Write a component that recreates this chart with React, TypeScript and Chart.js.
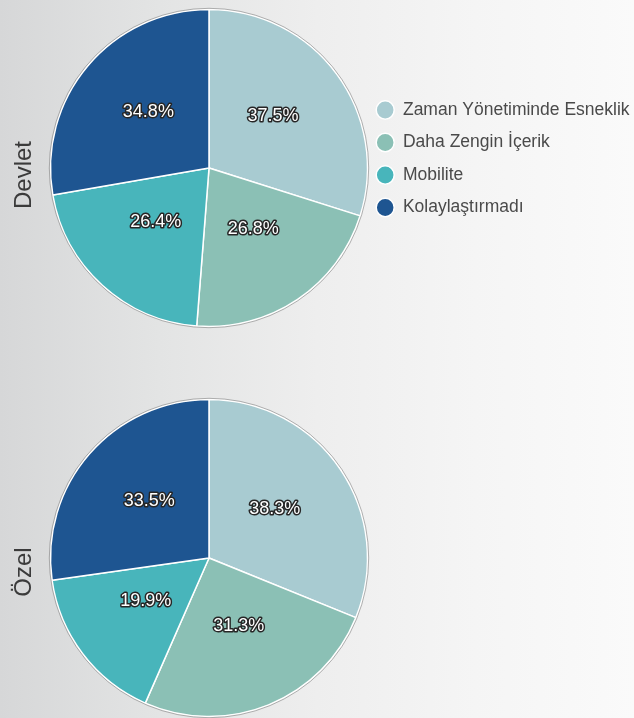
import React, { useEffect, useRef } from "react";
import { Chart, registerables } from "chart.js";

Chart.register(...registerables);

const categories = [
  "Zaman Yönetiminde Esneklik",
  "Daha Zengin İçerik",
  "Mobilite",
  "Kolaylaştırmadı",
];
const devletValues = [37.5, 26.8, 26.4, 34.8];
const ozelValues = [38.3, 31.3, 19.9, 33.5];
const groupLabels = ["Devlet", "Özel"];
const sliceColors = ["#a8cbd1", "#8bc0b5", "#48b5bb", "#1e5591"];

const FONT = "'Liberation Sans', Arial, Helvetica, sans-serif";

const pieDecor = {
  id: "pieDecor",
  afterDatasetsDraw(chart: any) {
    const { ctx } = chart;
    const meta = chart.getDatasetMeta(0);
    const data = chart.data.datasets[0].data as number[];
    ctx.save();
    const first = meta.data[0] as any;
    if (first) {
      ctx.beginPath();
      ctx.arc(first.x, first.y, first.outerRadius + 1.2, 0, Math.PI * 2);
      ctx.strokeStyle = "rgba(120,120,120,0.55)";
      ctx.lineWidth = 1;
      ctx.stroke();
    }
    ctx.font = `18px ${FONT}`;
    ctx.textAlign = "center";
    ctx.textBaseline = "alphabetic";
    ctx.lineJoin = "round";
    meta.data.forEach((el: any, i: number) => {
      const mid = (el.startAngle + el.endAngle) / 2;
      const r = el.outerRadius * 0.5;
      const x = el.x + Math.cos(mid) * r;
      const y = el.y + Math.sin(mid) * r;
      const text = `${data[i].toFixed(1)}%`;
      ctx.lineWidth = 3;
      ctx.strokeStyle = "#262626";
      ctx.strokeText(text, x, y);
      ctx.fillStyle = "#ffffff";
      ctx.fillText(text, x, y);
    });
    ctx.restore();
  },
};

function makeConfig(label: string, values: number[], withLegend: boolean, spacerBottom: number): any {
  return {
    type: "pie",
    data: {
      labels: categories,
      datasets: [
        {
          data: values,
          backgroundColor: sliceColors,
          borderColor: "#ffffff",
          borderWidth: 1.5,
          radius: 158.5,
          hoverOffset: 0,
        },
      ],
    },
    options: {
      responsive: false,
      animation: false,
      events: [],
      layout: { padding: withLegend ? 0 : { right: 272.8 } },
      plugins: {
        title: {
          display: true,
          text: label,
          position: "left",
          fullSize: true,
          color: "#3b3b3b",
          font: { family: FONT, size: 24, weight: "normal", lineHeight: 1.2 },
          padding: { top: 10, bottom: 18 },
        },
        subtitle: {
          display: true,
          text: "",
          position: "bottom",
          fullSize: true,
          font: { size: 10, lineHeight: 1 },
          padding: { top: spacerBottom - 10, bottom: 0 },
        },
        legend: withLegend
          ? {
              display: true,
              position: "right",
              align: "start",
              fullSize: true,
              maxWidth: 272.8,
              title: {
                display: true,
                text: "",
                position: "start",
                font: { size: 10, lineHeight: 1 },
                padding: { top: 76.25, bottom: 0 },
              },
              labels: {
                usePointStyle: true,
                pointStyle: "circle",
                pointStyleWidth: 18,
                boxHeight: 13,
                padding: 15,
                color: "#4a4a4a",
                font: { family: FONT, size: 17.5 },
              },
            }
          : { display: false },
        tooltip: { enabled: false },
      },
    },
    plugins: [pieDecor],
  };
}

function PieCanvas(props: { config: any; top: number; height: number }) {
  const ref = useRef<HTMLCanvasElement>(null);
  useEffect(() => {
    const chart = new Chart(ref.current as HTMLCanvasElement, props.config);
    return () => chart.destroy();
  }, []);
  return (
    <canvas
      ref={ref}
      width={634}
      height={props.height}
      style={{ position: "absolute", left: 0, top: props.top, width: 634, height: props.height }}
    />
  );
}

export default function App() {
  return (
    <div
      style={{
        position: "absolute",
        left: 0,
        top: 0,
        width: 634,
        height: 718,
        overflow: "hidden",
        background:
          "linear-gradient(to right, #d6d7d8 0%, #e3e4e4 25%, #eeeeee 50%, #f5f5f5 75%, #fafafa 100%)",
      }}
    >
      <PieCanvas config={makeConfig(groupLabels[0], devletValues, true, 14)} top={0} height={350} />
      <PieCanvas config={makeConfig(groupLabels[1], ozelValues, false, 28)} top={390} height={364} />
    </div>
  );
}
